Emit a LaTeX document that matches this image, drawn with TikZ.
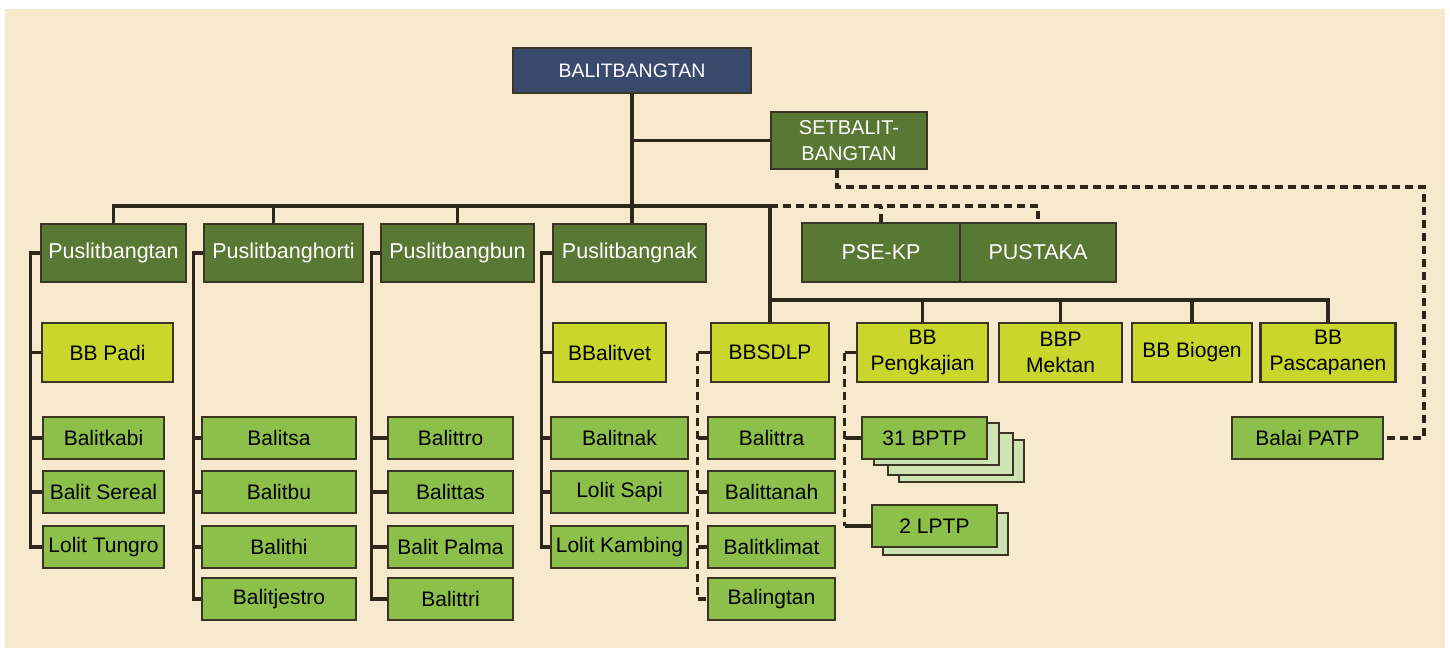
\documentclass[tikz,border=0pt]{standalone}
\usepackage{xcolor}
\usepackage{fontspec}
\setmainfont{Liberation Sans}
\usepackage{tikz}
\usetikzlibrary{positioning}

\definecolor{latar}{HTML}{F6E9CE}
\definecolor{biru}{HTML}{3A4A6C}
\definecolor{hijautua}{HTML}{587833}
\definecolor{kuning}{HTML}{CAD62C}
\definecolor{hijau}{HTML}{8DBF4B}
\definecolor{pucat}{HTML}{CFE2B3}
\definecolor{tepi}{HTML}{3B3524}
\definecolor{tinta}{HTML}{2E2618}

\begin{document}
\begin{tikzpicture}[y=-1pt,x=1pt,
	kotak/.style={draw=tepi, line width=2.4pt, inner sep=0pt, align=center, font=\fontsize{21}{26}\selectfont},
	kepala/.style={kotak, fill=biru, text=white, minimum width=238pt, minimum height=45pt, font=\fontsize{19.5}{24}\selectfont},
	pusat/.style={kotak, fill=hijautua, text=white, minimum height=58pt, font=\fontsize{21.5}{26}\selectfont},
	balai/.style={kotak, fill=kuning, minimum height=59pt},
	balit/.style={kotak, fill=hijau, minimum height=42pt},
	tumpuk/.style={kotak, fill=pucat, minimum width=125pt, minimum height=42pt},
	garis/.style={draw=tinta, line width=3.2pt},
	putus/.style={garis, dash pattern=on 8pt off 5pt}]

	\useasboundingbox (0,0) rectangle (1450,652);
	\fill[latar] (5,9) rectangle (1445,648);

	\node[kepala] (balitbangtan) at (632,70.5) {BALITBANGTAN};
	\node[pusat, minimum width=156pt, minimum height=57pt, font=\fontsize{20}{26}\selectfont] (setbalit) at (849,140.5) {SETBALIT-\\BANGTAN};

	\node[pusat, minimum width=145pt] (tan) at (113.5,253) {Puslitbangtan};
	\node[pusat, minimum width=159pt] (horti) at (283.5,253) {Puslitbanghorti};
	\node[pusat, minimum width=153pt] (bun) at (457.5,253) {Puslitbangbun};
	\node[pusat, minimum width=153pt] (nak) at (629.5,253) {Puslitbangnak};
	\node[pusat, minimum width=158pt, minimum height=59pt] (psekp) at (881,252.5) {PSE-KP};
	\node[pusat, minimum width=156pt, minimum height=59pt] (pustaka) at (1038,252.5) {PUSTAKA};

	\node[balai, minimum width=131pt] (bbpadi) at (107.5,352.5) {BB Padi};
	\node[balai, minimum width=113pt] (bbalitvet) at (609.5,352.5) {BBalitvet};
	\node[balai, minimum width=118pt] (bbsdlp) at (770,352.5) {BBSDLP};
	\node[balai, minimum width=131pt] (pengkajian) at (922.5,352.5) {BB\\Pengkajian};
	\node[balai, minimum width=123pt] (mektan) at (1060.5,352.5) {BBP\\Mektan};
	\node[balai, minimum width=120pt] (biogen) at (1192,352.5) {BB Biogen};
	\node[balai, minimum width=135pt] (pascapanen) at (1328,352.5) {BB\\Pascapanen};

	\node[balit, minimum width=121pt] (kabi) at (103.5,438) {Balitkabi};
	\node[balit, minimum width=121pt] (sereal) at (103.5,492) {Balit Sereal};
	\node[balit, minimum width=121pt] (tungro) at (103.5,547) {Lolit Tungro};

	\node[balit, minimum width=154pt] (balitsa) at (279,438) {Balitsa};
	\node[balit, minimum width=154pt] (balitbu) at (279,492) {Balitbu};
	\node[balit, minimum width=154pt] (balithi) at (279,547) {Balithi};
	\node[balit, minimum width=154pt] (jestro) at (279,599) {Balitjestro};

	\node[balit, minimum width=125pt] (balittro) at (450.5,438) {Balittro};
	\node[balit, minimum width=125pt] (balittas) at (450.5,492) {Balittas};
	\node[balit, minimum width=125pt] (palma) at (450.5,547) {Balit Palma};
	\node[balit, minimum width=125pt] (balittri) at (450.5,599) {Balittri};

	\node[balit, minimum width=137pt] (balitnak) at (619.5,438) {Balitnak};
	\node[balit, minimum width=137pt] (sapi) at (619.5,492) {Lolit Sapi};
	\node[balit, minimum width=137pt] (kambing) at (619.5,547) {Lolit Kambing};

	\node[balit, minimum width=127pt] (balittra) at (771.5,438) {Balittra};
	\node[balit, minimum width=127pt] (balittanah) at (771.5,492) {Balittanah};
	\node[balit, minimum width=127pt] (klimat) at (771.5,547) {Balitklimat};
	\node[balit, minimum width=127pt] (balingtan) at (771.5,599) {Balingtan};

	\foreach \dx/\dy in {37/23,26/16,12/6}
		\node[tumpuk] (bptp\dx) at (924.5+\dx,438+\dy) {};
	\node[balit, minimum width=125pt] (bptp) at (924.5,438) {31 BPTP};
	\node[tumpuk] (lptp11) at (945.5,534) {};
	\node[balit, minimum width=125pt] (lptp) at (934.5,526) {2 LPTP};

	\node[balit, minimum width=151pt] (patp) at (1307.5,438) {Balai PATP};

	\coordinate (simpul) at (770,206);
	\coordinate (simpulbalai) at (770,300);
	\coordinate (sudut) at (1424,187);

	\draw[garis] (balitbangtan.south) -- (balitbangtan.south |- nak.north);
	\draw[garis] (setbalit.west) -- (setbalit.west -| balitbangtan.south);
	\draw[garis] (tan.north) |- (simpul) -- (bbsdlp.north);
	\draw[garis] ([xshift=-10pt]horti.north) -- ([xshift=-10pt]horti.north |- simpul);
	\draw[garis] (bun.north) -- (bun.north |- simpul);
	\draw[putus] (simpul) -| (pustaka.north);
	\draw[putus] (psekp.north) -- (psekp.north |- simpul);
	\draw[garis] (simpulbalai) -| (pascapanen.north);
	\foreach \n in {pengkajian,mektan,biogen}
		\draw[garis] (\n.north) -- (\n.north |- simpulbalai);
	\draw[putus] ([xshift=-12pt]setbalit.south) |- (sudut) |- (patp.east);

	\draw[garis] (tan.west) -- ++(-9,0) coordinate (tulangtan) |- (tungro.west);
	\foreach \n in {bbpadi,kabi,sereal}
		\draw[garis] (\n.west) -- (\n.west -| tulangtan);

	\draw[garis] (horti.west) -- ++(-9,0) coordinate (tulanghorti) |- (jestro.west);
	\foreach \n in {balitsa,balitbu,balithi}
		\draw[garis] (\n.west) -- (\n.west -| tulanghorti);

	\draw[garis] (bun.west) -- ++(-8,0) coordinate (tulangbun) |- (balittri.west);
	\foreach \n in {balittro,balittas,palma}
		\draw[garis] (\n.west) -- (\n.west -| tulangbun);

	\draw[garis] (nak.west) -- ++(-10,0) coordinate (tulangnak) |- (kambing.west);
	\foreach \n in {bbalitvet,balitnak,sapi}
		\draw[garis] (\n.west) -- (\n.west -| tulangnak);

	\draw[garis] (bbsdlp.west) -- ++(-12,0) coordinate (tulangsdlp);
	\draw[putus] (tulangsdlp) |- (balingtan.west);
	\foreach \n in {balittra,balittanah,klimat}
		\draw[garis] (\n.west) -- (\n.west -| tulangsdlp);

	\draw[garis] (pengkajian.west) -- ++(-11,0) coordinate (tulangkaji);
	\draw[putus] (tulangkaji) -- (tulangkaji |- lptp.west);
	\draw[garis] (tulangkaji |- lptp.west) -- (lptp.west);
	\draw[garis] (bptp.west) -- (bptp.west -| tulangkaji);
\end{tikzpicture}
\end{document}
